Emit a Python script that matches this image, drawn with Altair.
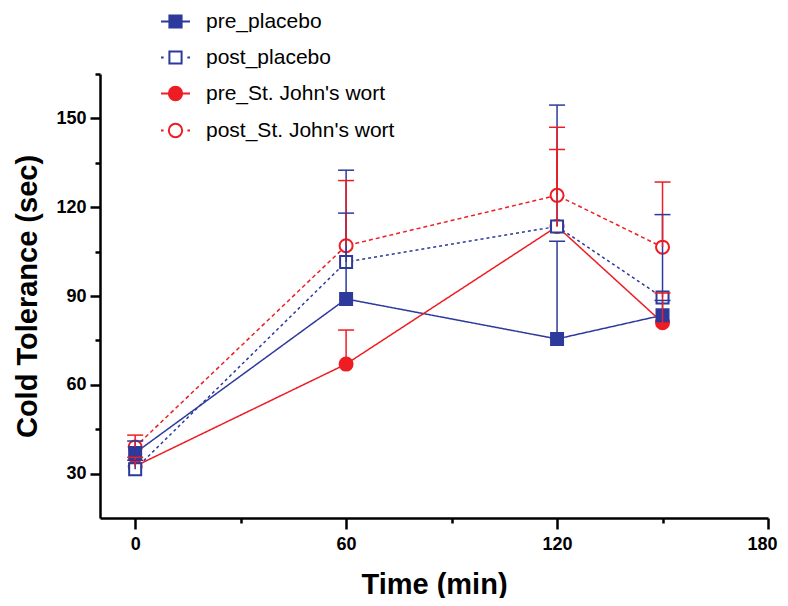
import altair as alt
import pandas as pd

# ---- data ----
time = [0, 60, 120, 150]
series_names = ["pre_placebo", "post_placebo", "pre_St. John's wort", "post_St. John's wort"]

pre_placebo = [37, 89, 75.5, 83.5]
pre_placebo_err = [4, 29, 33, 5]
post_placebo = [31.5, 101.5, 113.5, 89.5]
post_placebo_err = [3, 31, 41, 28]
pre_sjw = [32.5, 67, 113.5, 81]
pre_sjw_err = [3, 11.5, 26, 10]
post_sjw = [39, 107, 124, 106.5]
post_sjw_err = [4, 22, 23, 22]

x_ticks = [0, 30, 60, 90, 120, 150, 180]
y_ticks = [30, 45, 60, 75, 90, 105, 120, 135, 150, 165]

BLUE = "#2d3a9c"
RED = "#ee1d23"

values = [pre_placebo, post_placebo, pre_sjw, post_sjw]
errs = [pre_placebo_err, post_placebo_err, pre_sjw_err, post_sjw_err]
rows = []
for name, vals, er in zip(series_names, values, errs):
    for t, v, e in zip(time, vals, er):
        rows.append({"series": name, "time": t, "value": v, "upper": v + e})
df = pd.DataFrame(rows)

# drawing order of markers: red circles under blue squares
circles = pd.concat([df[df.series == series_names[2]], df[df.series == series_names[3]]])
squares = pd.concat([df[df.series == series_names[0]], df[df.series == series_names[1]]])

FONT = "Liberation Sans"

stroke_scale = alt.Scale(domain=series_names, range=[BLUE, BLUE, RED, RED])
fill_scale = alt.Scale(domain=series_names, range=[BLUE, "white", RED, "white"])

sq = "M-0.42,-0.42H0.42V0.42H-0.42Z"
ci = "M-0.46,0A0.46,0.46,0,1,0,0.46,0A0.46,0.46,0,1,0,-0.46,0Z"
shape_scale = alt.Scale(
    domain=series_names,
    range=[
        "M-1,0H1" + sq,
        "M-1,0H-0.82M0.82,0H1" + sq,
        "M-1,0H1" + ci,
        "M-1,0H-0.82M0.82,0H1" + ci,
    ],
)

x_enc = alt.X(
    "time:Q",
    scale=alt.Scale(domain=[-10, 180], nice=False, zero=False),
    axis=alt.Axis(
        values=x_ticks,
        labelExpr="datum.value % 60 === 0 ? datum.label : ''",
        tickSize={"condition": {"test": "datum.value % 60 === 0", "value": 11}, "value": 5},
        labelPadding=6,
        labelFlush=True,
        labelFlushOffset=9,
        titlePadding=17,
    ),
    title="Time (min)",
)
y_enc = alt.Y(
    "value:Q",
    scale=alt.Scale(domain=[15, 165], nice=False, zero=False),
    axis=alt.Axis(
        values=y_ticks,
        labelExpr="datum.value % 30 === 0 ? datum.label : ''",
        tickSize={"condition": {"test": "datum.value % 30 === 0", "value": 10}, "value": 5},
        labelPadding=4,
        labelFlush=False,
        titlePadding=13,
    ),
    title="Cold Tolerance (sec)",
)

base = alt.Chart(df)

legend_cfg = dict(
    title=None,
    orient="none",
    legendX=60,
    legendY=-68,
    padding=0,
    symbolSize=841,
    symbolStrokeWidth=2,
    symbolOpacity=1,
    labelFontSize=21,
    labelFont=FONT,
    labelColor="black",
    labelOffset=15,
    rowPadding=10,
    labelLimit=400,
)
# legend-only layer (draws nothing, carries the legend) - first so its legend settings win
legend_layer = base.transform_filter("false").mark_point(size=841, strokeWidth=2, opacity=1).encode(
    x=x_enc,
    y=y_enc,
    stroke=alt.Stroke("series:N", scale=stroke_scale, legend=alt.Legend(**legend_cfg)),
    fill=alt.Fill("series:N", scale=fill_scale, legend=alt.Legend(**legend_cfg)),
    shape=alt.Shape("series:N", scale=shape_scale, legend=alt.Legend(**legend_cfg)),
)


def line_layer(names, dash):
    return base.transform_filter(
        alt.FieldOneOfPredicate(field="series", oneOf=names)
    ).mark_line(strokeWidth=1.5, strokeDash=dash).encode(
        x="time:Q",
        y="value:Q",
        stroke=alt.Stroke("series:N", scale=stroke_scale, legend=None),
        detail="series:N",
    )


lines_pre = line_layer([series_names[0], series_names[2]], [1, 0])
lines_post_placebo = line_layer([series_names[1]], [3, 3])
lines_post_sjw = line_layer([series_names[3]], [4, 3])

circle_pts = alt.Chart(circles).mark_point(shape="circle", size=169, strokeWidth=2, opacity=1).encode(
    x="time:Q",
    y="value:Q",
    stroke=alt.Stroke("series:N", scale=stroke_scale, legend=None),
    fill=alt.Fill("series:N", scale=fill_scale, legend=None),
)
square_pts = alt.Chart(squares).mark_point(shape="square", size=144, strokeWidth=2, opacity=1).encode(
    x="time:Q",
    y="value:Q",
    stroke=alt.Stroke("series:N", scale=stroke_scale, legend=None),
    fill=alt.Fill("series:N", scale=fill_scale, legend=None),
)

err_bars = base.mark_rule(strokeWidth=1.5).encode(
    x="time:Q",
    y="value:Q",
    y2="upper:Q",
    stroke=alt.Stroke("series:N", scale=stroke_scale, legend=None),
)
err_caps = base.mark_rule(strokeWidth=1.5, xOffset=-8, x2Offset=8).encode(
    x="time:Q",
    x2="time:Q",
    y="upper:Q",
    stroke=alt.Stroke("series:N", scale=stroke_scale, legend=None),
)

chart = (
    alt.layer(legend_layer, lines_pre, lines_post_placebo, lines_post_sjw,
              circle_pts, square_pts, err_bars, err_caps)
    .properties(
        width=668,
        height=444,
        autosize=alt.AutoSizeParams(type="none"),
        padding={"left": 92, "top": 66, "right": 12, "bottom": 80},
        background="white",
    )
    .configure_view(stroke=None)
    .configure_axis(
        grid=False,
        domainColor="black",
        domainWidth=2.5,
        tickColor="black",
        tickWidth=2.5,
        labelFont=FONT,
        labelFontSize=18,
        labelFontWeight="bold",
        labelColor="black",
        titleFont=FONT,
        titleFontSize=29,
        titleFontWeight="bold",
        titleColor="black",
    )
)

chart.save("out.html", embed_options={"renderer": "svg", "actions": False})
